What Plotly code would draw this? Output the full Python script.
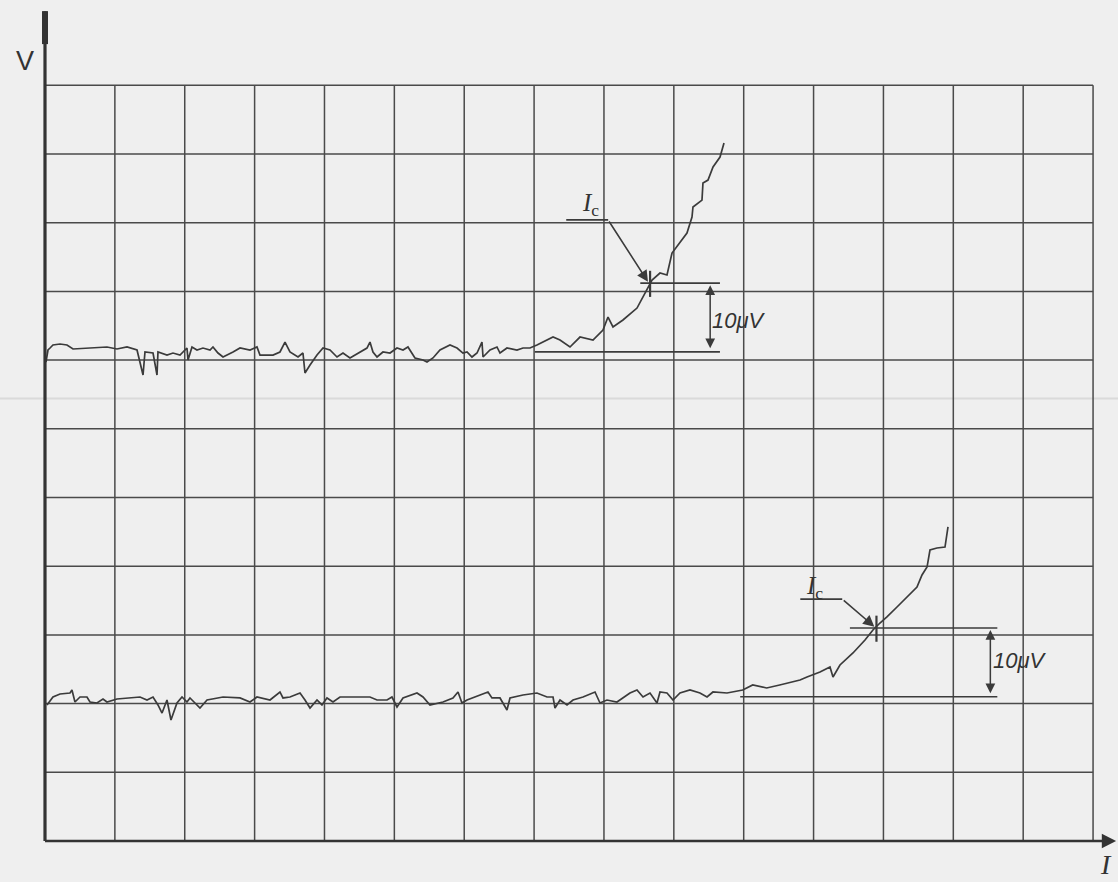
import plotly.graph_objects as go

# ---- data (I in tenths of a grid division, V in microvolts; 10 uV per division) ----
I_top = [0.14, 0.43, 0.72, 1.14, 2.15, 3.15, 4.01, 6.44, 8.87, 10.30, 11.74, 13.17, 14.03, 14.31,
         15.46, 16.03, 16.17, 17.46, 18.32, 19.32, 20.32, 20.47, 21.04, 21.75, 22.61, 23.62, 24.04,
         24.76, 25.48, 26.91, 27.91, 29.34, 30.34, 30.77, 32.63, 33.63, 34.35, 35.06, 36.21, 36.92,
         37.21, 37.93, 38.93, 39.79, 40.79, 41.79, 42.65, 43.65, 45.08, 46.08, 46.51, 46.94, 47.52,
         48.37, 49.38, 50.38, 51.24, 51.95, 52.95, 54.10, 54.67, 55.53, 56.53, 57.96, 58.97, 59.82,
         60.40, 61.11, 61.83, 62.54, 62.69, 63.69, 64.69, 65.12, 66.12, 67.55, 68.41, 69.41, 70.41,
         71.85, 72.71, 73.71, 75.14, 76.57, 78.43, 79.86, 80.58, 81.29, 82.72, 84.73, 85.59, 86.16,
         86.88, 88.02, 89.02, 89.74, 90.88, 91.88, 92.60, 92.74, 94.03, 94.17, 94.89, 95.61, 96.61,
         97.04, 97.18]
V_top = [69.72, 71.47, 71.76, 72.20, 72.34, 72.20, 71.62, 71.76, 71.91, 71.62, 71.91, 71.47, 67.83, 71.18,
         71.03, 67.83, 71.18, 70.74, 71.03, 70.74, 71.76, 70.01, 71.91, 71.47, 71.76, 71.47, 71.91,
         71.03, 70.45, 71.18, 71.76, 71.47, 71.91, 70.74, 70.74, 71.18, 72.63, 71.18, 70.45, 71.03,
         68.12, 69.29, 70.74, 71.76, 71.47, 70.45, 71.03, 70.31, 71.18, 71.76, 72.63, 71.18, 70.45,
         71.18, 71.03, 71.76, 71.47, 71.91, 70.31, 70.01, 69.72, 70.31, 71.47, 72.20, 71.76, 71.03,
         71.18, 70.45, 71.03, 72.63, 70.45, 71.47, 71.91, 71.03, 71.76, 71.47, 71.76, 71.76, 72.20,
         72.93, 73.36, 72.93, 71.91, 73.36, 72.93, 74.38, 76.27, 74.82, 75.84, 77.58, 79.18, 80.20,
         81.66, 82.68, 82.39, 85.59, 87.05, 88.50, 90.83, 92.29, 93.30, 95.78, 96.21, 98.11, 99.56,
         101.02, 101.60]

I_bot = [0.29, 1.14, 2.15, 3.58, 3.86, 4.29, 5.01, 6.01, 6.44, 7.44, 8.30, 8.87, 10.30, 12.17, 13.60,
         14.60, 15.46, 16.17, 16.75, 17.46, 18.03, 18.89, 19.61, 20.32, 20.75, 21.47, 22.18, 23.19,
         25.48, 27.91, 29.34, 30.34, 32.20, 33.63, 34.06, 35.06, 36.50, 37.21, 37.93, 38.93, 39.64,
         40.36, 41.22, 42.22, 44.65, 46.51, 47.52, 48.95, 49.66, 50.38, 51.24, 53.24, 54.10, 55.10,
         56.96, 58.39, 59.11, 59.68, 60.40, 62.26, 63.40, 63.97, 65.12, 66.12, 66.55, 68.41, 70.41,
         71.85, 72.71, 72.99, 73.71, 74.71, 75.57, 77.00, 78.72, 79.43, 80.43, 81.86, 83.72, 84.73,
         85.59, 86.59, 87.59, 88.02, 89.02, 89.88, 90.88, 92.31, 93.74, 94.75, 95.60, 97.61, 99.86,
         101.29, 103.29, 105.15, 107.05, 108.06, 109.06, 110.92, 112.35, 112.78, 113.78, 115.64,
         117.36, 118.50, 119.50, 120.50, 121.94, 123.37, 124.80, 125.52, 126.24, 126.66, 127.66,
         128.81, 128.95, 129.24]
V_bot = [19.80, 20.96, 21.40, 21.54, 21.98, 20.23, 20.96, 20.96, 20.23, 20.09, 20.67, 20.23, 20.67, 20.82,
         20.96, 20.52, 20.96, 19.80, 18.63, 20.52, 17.61, 20.09, 20.96, 20.23, 20.82, 20.09, 19.36,
         20.52, 20.96, 20.82, 20.23, 20.96, 20.52, 21.69, 20.82, 20.96, 21.54, 20.52, 19.36, 20.52,
         19.80, 20.82, 20.23, 20.96, 20.96, 20.96, 20.52, 20.52, 20.96, 19.51, 20.82, 21.54, 20.96,
         19.80, 20.23, 20.82, 21.69, 20.09, 20.52, 21.25, 21.69, 20.82, 20.82, 19.07, 20.82, 21.25,
         21.54, 20.96, 20.96, 19.36, 20.52, 19.80, 20.52, 20.96, 21.69, 20.09, 20.52, 20.23, 21.54,
         21.98, 20.96, 21.54, 20.09, 21.69, 21.54, 20.52, 21.54, 21.98, 21.54, 20.96, 21.69, 21.54,
         21.98, 22.71, 22.27, 22.71, 23.14, 23.44, 23.87, 24.60, 25.33, 23.87, 25.62, 27.37, 29.26,
         30.71, 31.73, 32.61, 34.06, 35.52, 36.97, 38.72, 39.88, 42.36, 42.65, 42.79, 43.81, 45.71]

# critical-current markers: (I_c, V at I_c, baseline V)
IC_TOP = (86.6, 81.2, 71.2)
IC_BOT = (119.0, 31.0, 21.0)
CRIT_LABEL = "10\u03bcV"

N_COLS, N_ROWS = 15, 11          # grid divisions
DIV_I, DIV_V = 10, 10            # units per division

INK = "#3b3b3b"
PAPER = "#efefef"

fig = go.Figure()

fig.add_trace(go.Scatter(x=I_top, y=V_top, mode="lines",
                         line=dict(color=INK, width=1.7), hoverinfo="skip", showlegend=False))
fig.add_trace(go.Scatter(x=I_bot, y=V_bot, mode="lines",
                         line=dict(color=INK, width=1.7), hoverinfo="skip", showlegend=False))

shapes = []
xmax, ymax = N_COLS * DIV_I, N_ROWS * DIV_V
# scan artifact line
shapes.append(dict(type="line", xref="paper", yref="y", x0=0, x1=1, y0=64.4, y1=64.4,
                   line=dict(color="#dadada", width=2), layer="below"))
for i in range(1, N_COLS + 1):
    shapes.append(dict(type="line", x0=i * DIV_I, x1=i * DIV_I, y0=0, y1=ymax,
                       line=dict(color="#4a4a4a", width=1.5), layer="below"))
for j in range(1, N_ROWS + 1):
    shapes.append(dict(type="line", x0=0, x1=xmax, y0=j * DIV_V, y1=j * DIV_V,
                       line=dict(color="#4a4a4a", width=1.5), layer="below"))
# axes
shapes.append(dict(type="line", x0=0, x1=152.5, y0=0, y1=0, line=dict(color="#333", width=2.5)))
shapes.append(dict(type="line", x0=0, x1=0, y0=0, y1=120.8, line=dict(color="#333", width=3.2)))
shapes.append(dict(type="line", x0=0, x1=0, y0=116, y1=120.8, line=dict(color="#333", width=6)))

annotations = []
# x-axis arrowhead
annotations.append(dict(x=153.3, y=0, ax=146, ay=0, axref="x", ayref="y", xref="x", yref="y",
                        text="", showarrow=True, arrowhead=2, arrowsize=1.3, arrowwidth=2.2,
                        arrowcolor="#333"))
annotations.append(dict(x=-2.9, y=113.6, text="V", showarrow=False, xref="x", yref="y",
                        font=dict(family="Liberation Sans", size=27, color="#333")))
annotations.append(dict(x=153.0, y=-3.4, text="<i>I</i>", showarrow=False, xref="x", yref="y",
                        xanchor="right",
                        font=dict(family="Liberation Serif", size=28, color="#333")))


def ic_marker(ic, v_ic, v_base, base_x0, ic_x0, ref_x1, arrow_x, lbl_x, lbl_y, tail, txt_xy):
    # baseline and Ic reference lines
    shapes.append(dict(type="line", x0=base_x0, x1=ref_x1, y0=v_base, y1=v_base,
                       line=dict(color=INK, width=1.6)))
    shapes.append(dict(type="line", x0=ic_x0, x1=ref_x1, y0=v_ic, y1=v_ic,
                       line=dict(color=INK, width=1.6)))
    # cross tick at Ic
    shapes.append(dict(type="line", x0=ic, x1=ic, y0=v_ic - 2.0, y1=v_ic + 1.8,
                       line=dict(color=INK, width=2.2)))
    # underline of label
    shapes.append(dict(type="line", x0=tail[0] - 6.0, x1=tail[0], y0=tail[1], y1=tail[1],
                       line=dict(color=INK, width=1.8)))
    # label
    annotations.append(dict(x=lbl_x, y=lbl_y, xref="x", yref="y", showarrow=False,
                            text="<i>I</i><sub>c</sub>",
                            font=dict(family="Liberation Serif", size=25, color="#333")))
    # arrow from label to Ic point
    annotations.append(dict(x=ic - 0.3, y=v_ic + 0.2, ax=tail[0], ay=tail[1], axref="x", ayref="y",
                            xref="x", yref="y", text="", showarrow=True, arrowhead=2,
                            arrowsize=1.4, arrowwidth=1.6, arrowcolor=INK))
    # double-headed 10 uV arrow
    annotations.append(dict(x=arrow_x, y=v_ic - 0.3, ax=arrow_x, ay=v_base + 0.3, axref="x", ayref="y",
                            xref="x", yref="y", text="", showarrow=True, arrowhead=2,
                            startarrowhead=2, arrowside="end+start", arrowsize=1.3,
                            arrowwidth=1.5, arrowcolor=INK))
    annotations.append(dict(x=txt_xy[0], y=txt_xy[1], xref="x", yref="y", showarrow=False,
                            text="<i>" + CRIT_LABEL + "</i>",
                            font=dict(family="Liberation Sans", size=22, color="#333")))


ic_marker(*IC_TOP, base_x0=70.1, ic_x0=85.2, ref_x1=96.6, arrow_x=95.2,
          lbl_x=78.1, lbl_y=92.6, tail=(80.6, 90.4), txt_xy=(99.3, 75.8))
ic_marker(*IC_BOT, base_x0=99.5, ic_x0=115.2, ref_x1=136.3, arrow_x=135.3,
          lbl_x=110.2, lbl_y=36.9, tail=(114.1, 35.2), txt_xy=(139.6, 26.3))

fig.update_layout(
    width=1118, height=882,
    margin=dict(l=0, r=0, t=0, b=0),
    paper_bgcolor=PAPER, plot_bgcolor=PAPER,
    shapes=shapes, annotations=annotations,
    xaxis=dict(range=[-6.44, 153.57], visible=False, fixedrange=True),
    yaxis=dict(range=[-5.97, 122.42], visible=False, fixedrange=True),
    showlegend=False,
)

fig.write_html(
    "out.html",
    config={"displayModeBar": False},
    post_script="document.body.style.margin='0';document.body.style.overflow='hidden';"
                "document.body.style.background='#efefef';",
)
